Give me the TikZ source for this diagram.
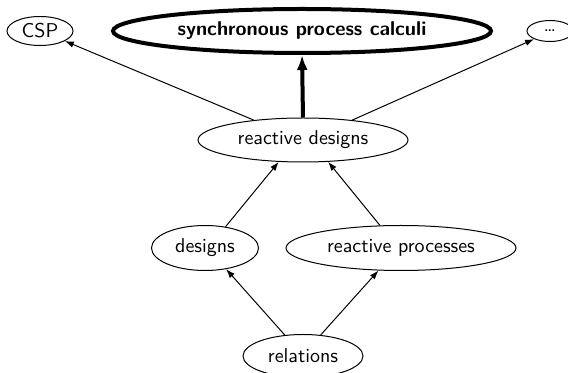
\documentclass[tikz,border=0pt]{standalone}
\usetikzlibrary{shapes.geometric,arrows.meta}
\begin{document}
\begin{tikzpicture}[x=0.5pt,y=-0.5pt,font=\sffamily,
  blob/.style={ellipse,draw,inner sep=0pt,line width=0.5pt},
  link/.style={line width=0.5pt,-{Latex[length=4.5pt,width=3.2pt]}},
  mainlink/.style={line width=2pt,-{Latex[length=7.5pt,width=5.5pt]}}]
  \useasboundingbox (0,0) rectangle (568,373);
  % top row
  \node[blob,minimum width=33pt,minimum height=14.5pt] (csp) at (40,31) {CSP};
  \node[blob,line width=2pt,minimum width=189pt,minimum height=22pt] (sync) at (302,31)
    {\bfseries synchronous process calculi};
  \node[blob,minimum width=23pt,minimum height=10.5pt] (more) at (550,31) {\ldots};
  % middle
  \node[blob,minimum width=105pt,minimum height=22pt] (rdes) at (303,140) {reactive designs};
  \node[blob,minimum width=53.5pt,minimum height=22.5pt] (des) at (205,248) {designs};
  \node[blob,minimum width=115pt,minimum height=22.5pt] (rproc) at (401,248) {reactive processes};
  % bottom
  \node[blob,minimum width=60pt,minimum height=21.5pt] (rel) at (303,356) {relations};
  % connectors
  \draw[link] (rdes.158) -- (csp.-22);
  \draw[link] (rdes.22) -- (more.207);
  \draw[mainlink] (rdes.90) -- (sync.270);
  \draw[link] (des.46) -- (rdes.222);
  \draw[link] (rproc.133) -- (rdes.319);
  \draw[link] (rel.131) -- (des.315);
  \draw[link] (rel.50) -- (rproc.225);
\end{tikzpicture}
\end{document}
